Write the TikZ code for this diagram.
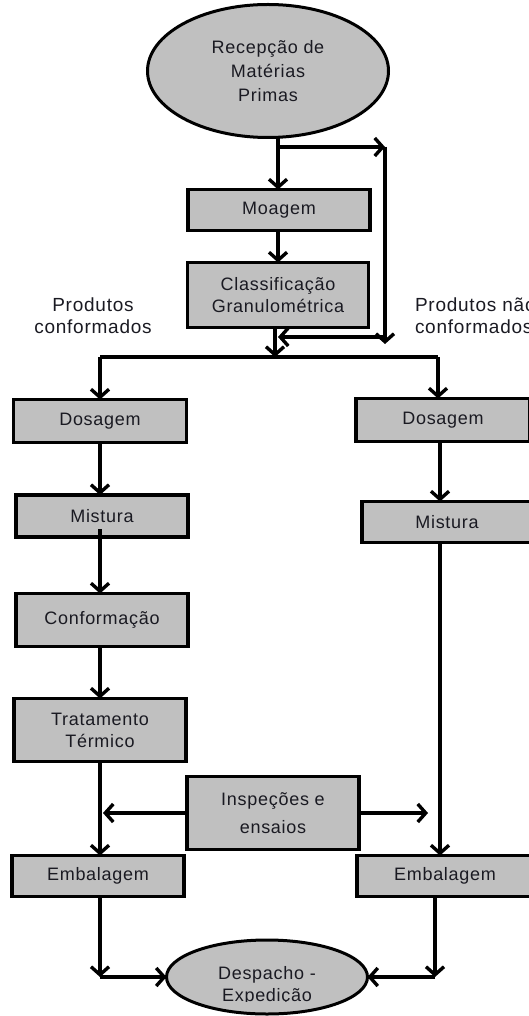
\documentclass[tikz,border=0pt]{standalone}
\usepackage{fontspec}
\setmainfont[LetterSpace=4]{Liberation Sans}
\usetikzlibrary{arrows.meta,shapes.geometric}
\definecolor{boxfill}{HTML}{C0C0C0}
\definecolor{ink}{HTML}{1A1A22}
\begin{document}
\begin{tikzpicture}[x=1pt,y=-1pt,
  every node/.style={text=ink,font=\fontsize{18}{22}\selectfont,inner sep=0pt,outer sep=0pt},
  procbox/.style={draw=black,fill=boxfill,line width=3.6pt,align=center,anchor=center},
  terminal/.style={ellipse,draw=black,fill=boxfill,line width=3pt,align=center,anchor=center},
  flow/.style={line width=3.4pt,-{Straight Barb[length=8pt,width=18pt]}},
  plain/.style={line width=3.4pt},
  lbl/.style={align=center}]
\useasboundingbox (0,0) rectangle (528,1016);

% reception of raw materials
\node[terminal,minimum width=241pt,minimum height=133pt,
      font=\fontsize{18}{24}\selectfont] (rec) at (268,71) {Recepção de\\Matérias\\Primas};

% milling and classification
\node[procbox,minimum width=182pt,minimum height=41pt] (moagem) at (279,210) {Moagem};
\node[procbox,minimum width=181pt,minimum height=65pt] (classif) at (278,295) {Classificação\\Granulométrica};

% two product lines
\node[lbl,font=\fontsize{19}{22}\selectfont] (lblL) at (93,316) {Produtos\\conformados};
\node[align=left,anchor=west,font=\fontsize{19}{22}\selectfont] (lblR) at (415,316) {Produtos não\\conformados};

\node[procbox,minimum width=173pt,minimum height=43pt] (dosL) at (100,421) {Dosagem};
\node[procbox,minimum width=174pt,minimum height=43pt] (dosR) at (443,420) {Dosagem};
\node[procbox,minimum width=172pt,minimum height=42pt] (misL) at (102,516) {Mistura};
\node[procbox,minimum width=170pt,minimum height=41pt] (misR) at (447,522) {Mistura};
\node[procbox,minimum width=172pt,minimum height=53pt] (conf) at (102,620) {Conformação};
\node[procbox,minimum width=172pt,minimum height=63pt] (trat) at (100,730) {Tratamento\\Térmico};
\node[procbox,minimum width=172pt,minimum height=73pt,
      font=\fontsize{18}{28}\selectfont] (insp) at (273,813) {Inspeções e\\ensaios};
\node[procbox,minimum width=172pt,minimum height=41pt] (embL) at (98,876) {Embalagem};
\node[procbox,minimum width=176pt,minimum height=41pt] (embR) at (445,876) {Embalagem};

% dispatch
\node[terminal,minimum width=201pt,minimum height=74pt] (desp) at (267,977) {};
\begin{scope}
  \clip (150,940) rectangle (380,1001);
  \node[lbl] (desptxt) at (267,986) {Despacho -\\Expedição};
\end{scope}

% junction points
\coordinate (s1) at (278,147);
\coordinate (c1) at (385,147);
\coordinate (c2) at (385,337);
\coordinate (j)  at (278,337);
\coordinate (b)  at (275,357);
\coordinate (bL) at (100,357);
\coordinate (bR) at (438,357);
\coordinate (xL) at (100,0);
\coordinate (xR) at (440,0);
\coordinate (iR) at (428,813);
\coordinate (dL) at (100,977);
\coordinate (dR) at (435,977);

% upper connectors
\draw[plain] (s1 |- rec.south) -- (s1);
\draw[flow] (s1) -- (s1 |- moagem.north);
\draw[flow] (s1) -- (c1);
\draw[flow] (c1) -- ([yshift=-7pt]c2);
\draw[flow] (c2) -- (j);
\draw[flow] (moagem.south -| s1) -- (s1 |- classif.north);
\draw[flow] (classif.south -| b) -- (b);
\draw[plain] (bL) -- (bR);
\draw[flow] (bL) -- (bL |- dosL.north);
\draw[flow] (bR) -- (bR |- dosR.north);

% left line
\draw[flow] (xL |- dosL.south) -- (xL |- misL.north);
\draw[flow] ([yshift=8pt]xL |- misL.south) -- (xL |- conf.north);
\draw[flow] (xL |- conf.south) -- (xL |- trat.north);
\draw[flow] (xL |- trat.south) -- (xL |- embL.north);

% right line
\draw[flow] (xR |- dosR.south) -- (xR |- misR.north);
\draw[flow] (xR |- misR.south) -- (xR |- embR.north);

% inspections feed both lines
\draw[flow] (insp.west) -- ([xshift=3pt]xL |- insp.west);
\draw[flow] (insp.east) -- (iR);

% packing to dispatch
\draw[flow] (xL |- embL.south) -- (dL);
\draw[flow] (dL) -- (desp.west);
\draw[flow] (dR |- embR.south) -- (dR);
\draw[flow] (dR) -- (desp.east);
\end{tikzpicture}
\end{document}
